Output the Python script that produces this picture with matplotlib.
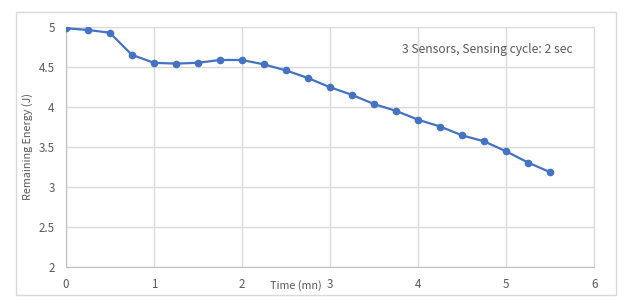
import matplotlib.pyplot as plt
from matplotlib.patches import Rectangle

plt.rcParams['font.family'] = ['Noto Sans CJK SC', 'DejaVu Sans']

time_mn = [0, 0.25, 0.5, 0.75, 1.0, 1.25, 1.5, 1.75, 2.0, 2.25, 2.5, 2.75,
           3.0, 3.25, 3.5, 3.75, 4.0, 4.25, 4.5, 4.75, 5.0, 5.25, 5.5]
energy = [4.98, 4.96, 4.925, 4.65, 4.55, 4.54, 4.55, 4.585, 4.585, 4.53, 4.455, 4.36,
          4.245, 4.15, 4.035, 3.95, 3.84, 3.755, 3.645, 3.57, 3.445, 3.305, 3.185]
xticks = [0, 1, 2, 3, 4, 5, 6]
yticks = [2, 2.5, 3, 3.5, 4, 4.5, 5]

grey = '#595959'
blue = '#4472C4'

fig = plt.figure(figsize=(6.33, 3.08), dpi=100)
fig.patches.append(Rectangle((0.0253, 0.042), 0.948, 0.919, transform=fig.transFigure,
                             fill=False, edgecolor='#d9d9d9', linewidth=1))
ax = fig.add_axes([0.1038, 0.1322, 0.8351, 0.7811])

ax.plot(time_mn, energy, '-o', color=blue, linewidth=1.6, markersize=4.5, zorder=3)

ax.set_xlim(0, 6)
ax.set_ylim(2, 5)
ax.set_xticks(xticks)
ax.set_yticks(yticks)
ax.set_yticklabels(['2', '2.5', '3', '3.5', '4', '4.5', '5'])
ax.grid(color='#d9d9d9', linewidth=1)
ax.tick_params(length=0, labelsize=8.3, labelcolor=grey, pad=8)
for s in ax.spines.values():
    s.set_color('#d9d9d9')
ax.spines['bottom'].set_color('#bfbfbf')
ax.spines['left'].set_color('#bfbfbf')

ax.set_ylabel('Remaining Energy (J)', fontsize=7.8, color=grey, labelpad=4)
fig.text(296 / 633, 1 - 286 / 308, 'Time (mn)', fontsize=7.8, color=grey,
         ha='center', va='center')
ax.text(3.82, 4.72, '3 Sensors, Sensing cycle: 2 sec', fontsize=8.7, color=grey,
        va='center')

fig.savefig('out.png', dpi=100)
